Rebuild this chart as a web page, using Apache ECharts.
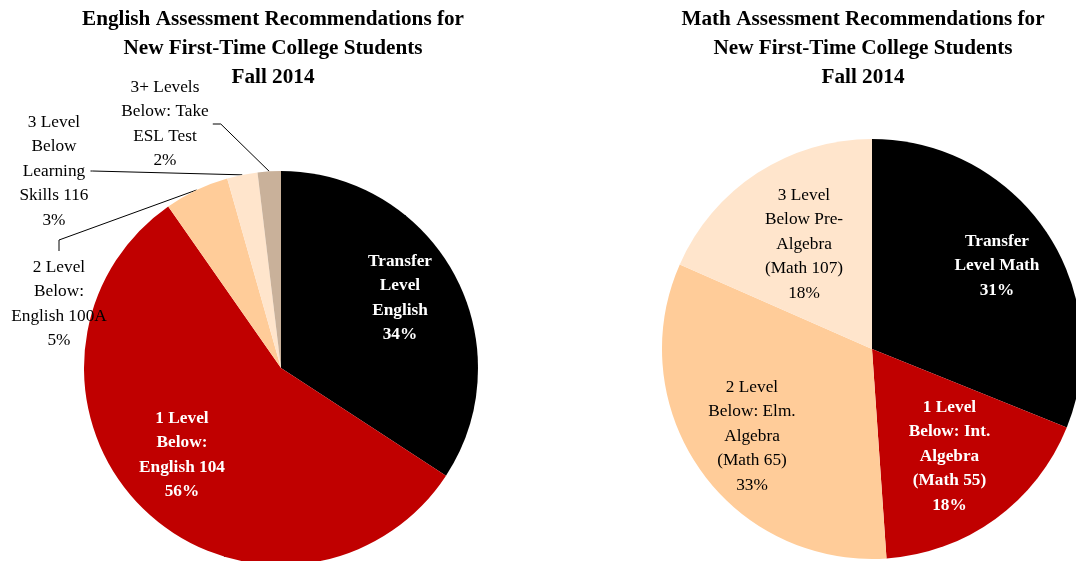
<!DOCTYPE html>
<html>
<head>
<meta charset="utf-8">
<script src="https://cdn.jsdelivr.net/npm/echarts@6/dist/echarts.min.js"></script>
<style>
    html, body { margin: 0; width: 100%; height: 100%; background: #fff; }
    #english { position: absolute; left: 0; top: 0; width: 546px; height: 561px; }
    #math { position: absolute; left: 650px; top: 0; width: 426px; height: 561px; }
</style>
</head>
<body>
<div id="english"></div>
<div id="math"></div>
<script>
// English placement shares (percent of new first-time students)
var englishNames = ['Transfer\nLevel\nEnglish', '1 Level\nBelow:\nEnglish 104', '2 Level\nBelow:\nEnglish 100A', '3 Level\nBelow\nLearning\nSkills 116', '3+ Levels\nBelow: Take\nESL Test'];
var englishValues = [34.2, 56.1, 5.3, 2.5, 1.9];

// Math placement shares
var mathNames = ['Transfer\nLevel Math', '1 Level\nBelow: Int.\nAlgebra\n(Math 55)', '2 Level\nBelow: Elm.\nAlgebra\n(Math 65)', '3 Level\nBelow Pre-\nAlgebra\n(Math 107)'];
var mathValues = [31.1, 17.8, 32.7, 18.4];

// styling
var englishColors = ['#000000', '#C00000', '#FFCC99', '#FFE5CC', '#C9B19A'];
var mathColors = ['#000000', '#C00000', '#FFCC99', '#FFE5CC'];
var englishInside = [true, true, false, false, false];
var englishBold = [true, true, false, false, false];
var mathBold = [true, true, false, false];

// label centres (px, inside each chart box)
var englishLabelPos = [[400, 298], [182, 455], [59, 304], [54, 171], [165, 124]];
var mathLabelPos = [[347, 266], [299.5, 456.5], [102, 436], [154, 244]];

var font = 'Liberation Serif';

function titleOpt(text) {
    return {
        text: text,
        left: 'center',
        top: 5,
        padding: 0,
        textStyle: { fontFamily: font, fontSize: 21.2, fontWeight: 'bold', lineHeight: 29, color: '#000' }
    };
}

function buildData(names, values, colors, bold, inside) {
    var data = [];
    for (var i = 0; i < names.length; i++) {
        data.push({
            name: names[i],
            value: values[i],
            itemStyle: { color: colors[i] },
            label: {
                position: inside[i] ? 'inside' : 'outside',
                color: bold[i] ? '#fff' : '#000',
                fontWeight: bold[i] ? 'bold' : 'normal'
            }
        });
    }
    return data;
}

var englishChart = echarts.init(document.getElementById('english'));
englishChart.setOption({
    animation: false,
    title: titleOpt('English Assessment Recommendations for\nNew First-Time College Students\nFall 2014'),
    series: [{
        type: 'pie',
        center: [281, 368],
        radius: 197,
        startAngle: 90,
        avoidLabelOverlap: false,
        percentPrecision: 0,
        emphasis: { disabled: true },
        label: {
            formatter: '{b}\n{d}%',
            fontFamily: font,
            fontSize: 17.3,
            lineHeight: 24.5,
            align: 'center'
        },
        labelLine: { show: true, lineStyle: { color: '#000', width: 1 } },
        labelLayout: function (p) {
            var pos = englishLabelPos[p.dataIndex];
            var out = { x: pos[0], y: pos[1], align: 'center', verticalAlign: 'middle' };
            var pts = p.labelLinePoints;
            if (pts && pts.length && !englishInside[p.dataIndex]) {
                var a = pts[0];
                var w = p.labelRect.width, h = p.labelRect.height;
                if (p.dataIndex === 2) {
                    out.labelLinePoints = [a, [pos[0], pos[1] - h / 2 - 15], [pos[0], pos[1] - h / 2 - 4]];
                } else if (p.dataIndex === 3) {
                    out.labelLinePoints = [a, [pos[0] + w / 2 + 4, pos[1]], [pos[0] + w / 2 + 2, pos[1]]];
                } else {
                    out.labelLinePoints = [a, [pos[0] + w / 2 + 12, pos[1]], [pos[0] + w / 2 + 4, pos[1]]];
                }
            }
            return out;
        },
        data: buildData(englishNames, englishValues, englishColors, englishBold, englishInside)
    }]
});

var mathChart = echarts.init(document.getElementById('math'));
mathChart.setOption({
    animation: false,
    title: titleOpt('Math Assessment Recommendations for\nNew First-Time College Students\nFall 2014'),
    series: [{
        type: 'pie',
        center: [222, 349],
        radius: 210,
        startAngle: 90,
        avoidLabelOverlap: false,
        percentPrecision: 0,
        emphasis: { disabled: true },
        label: {
            formatter: '{b}\n{d}%',
            fontFamily: font,
            fontSize: 17.3,
            lineHeight: 24.5,
            align: 'center'
        },
        labelLine: { show: false },
        labelLayout: function (p) {
            var pos = mathLabelPos[p.dataIndex];
            return { x: pos[0], y: pos[1], align: 'center', verticalAlign: 'middle' };
        },
        data: buildData(mathNames, mathValues, mathColors, mathBold, [true, true, true, true])
    }]
});

window.onresize = function () {
    englishChart.resize();
    mathChart.resize();
};
</script>
</body>
</html>
